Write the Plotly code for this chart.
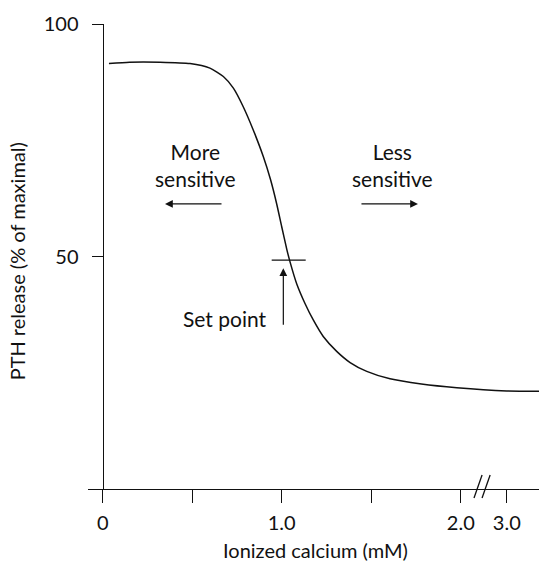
import plotly.graph_objects as go

# ---- data ----
calcium_mM = [0.035, 0.15, 0.32, 0.488, 0.599, 0.674, 0.730, 0.785, 0.841, 0.897, 0.937,
              0.972, 1.0, 1.028, 1.046, 1.084, 1.130, 1.177, 1.232, 1.307, 1.382, 1.475,
              1.605, 1.78, 1.978, 3.0, 3.7]
pth_release = [91.5, 91.8, 91.8, 91.5, 90.5, 88.7, 86.2, 82.2, 77.2, 71.5, 66.6,
               61.3, 56.4, 51.6, 48.9, 44.1, 39.9, 36.3, 32.8, 29.6, 27.2, 25.3,
               23.7, 22.6, 21.8, 21.1, 21.0]
tick_values_mM = [0, 0.5, 1.0, 1.5, 2.0, 3.0]
tick_labels = ["0", "", "1.0", "", "2.0", "3.0"]
y_tick_values = [50, 100]
set_point_y = 49.2
more_arrow = (0.672, 0.348)   # tail, head (mM)
less_arrow = (1.437, 1.761)
arrow_y = 61.3

# broken axis scale: linear up to 2.0 mM, compressed after the break
BREAK = 2.0
COMPRESS = 0.257


def pos(x):
    return x if x <= BREAK else BREAK + (x - BREAK) * COMPRESS


XR = [-0.082, 2.437]
YR = [0, 100]


def px(v):
    return (v - XR[0]) / (XR[1] - XR[0])


FONT = "Lato, 'DejaVu Sans', sans-serif"
BLACK = "#111111"

fig = go.Figure()
fig.add_trace(go.Scatter(
    x=[pos(v) for v in calcium_mM], y=pth_release, mode="lines",
    line=dict(color=BLACK, width=1.5, shape="spline", smoothing=0.6),
    hoverinfo="skip", showlegend=False))

W, H = 539, 565
ML, MR, MT, MB = 88, 0, 24, 76

fig.update_layout(
    width=W, height=H,
    margin=dict(l=ML, r=MR, t=MT, b=MB),
    paper_bgcolor="white", plot_bgcolor="white",
    font=dict(family=FONT, size=20, color=BLACK),
    xaxis=dict(range=XR, showgrid=False, zeroline=False, showline=True,
               linecolor=BLACK, linewidth=1.3, ticks="outside", ticklen=13,
               tickwidth=1.3, tickcolor=BLACK,
               tickvals=[pos(v) for v in tick_values_mM], ticktext=tick_labels,
               tickfont=dict(size=20), ticklabelstandoff=3),
    yaxis=dict(range=YR, showgrid=False, zeroline=False, showline=True,
               linecolor=BLACK, linewidth=1.3, ticks="outside", ticklen=11,
               tickwidth=1.3, tickcolor=BLACK, tickvals=y_tick_values,
               anchor="free", position=(0 - XR[0]) / (XR[1] - XR[0]),
               tickfont=dict(size=20), ticklabelstandoff=9),
)

# axis titles
fig.add_annotation(text="Ionized calcium (mM)", xref="paper", yref="paper",
                   x=px(1.19), y=-0.131, showarrow=False,
                   font=dict(size=20), xanchor="center", yanchor="middle")
fig.add_annotation(text="PTH release (% of maximal)", xref="paper", yref="paper",
                   x=-0.157, y=0.49, showarrow=False, textangle=-90,
                   font=dict(size=20), xanchor="center", yanchor="middle")

# labels
fig.add_annotation(text="More<br>sensitive", x=0.516, y=69.6, showarrow=False,
                   font=dict(size=21))
fig.add_annotation(text="Less<br>sensitive", x=1.616, y=69.6, showarrow=False,
                   font=dict(size=21))
fig.add_annotation(text="Set point", x=0.683, y=36.6, showarrow=False,
                   font=dict(size=21))

# arrows
for tail, head in (more_arrow, less_arrow):
    fig.add_annotation(x=head, y=arrow_y, ax=tail, ay=arrow_y, axref="x", ayref="y",
                       text="", showarrow=True, arrowhead=2, arrowsize=1.3,
                       arrowwidth=1.2, arrowcolor=BLACK)
fig.add_annotation(x=1.009, y=47.5, ax=1.009, ay=35.0, axref="x", ayref="y",
                   text="", showarrow=True, arrowhead=2, arrowsize=1.3,
                   arrowwidth=1.2, arrowcolor=BLACK)

# set point bar
fig.add_shape(type="line", xref="x", yref="y", x0=0.944, x1=1.134,
              y0=set_point_y, y1=set_point_y,
              line=dict(color=BLACK, width=1.3))

# axis break marks
for bx in (2.074, 2.119):
    fig.add_shape(type="line", xref="paper", yref="paper",
                  x0=px(bx), x1=px(bx + 0.045), y0=-0.0194, y1=0.0301,
                  line=dict(color=BLACK, width=1.3))

fig.write_html("out.html", config={"displayModeBar": False},
               post_script="document.body.style.margin='0';document.body.style.overflow='hidden';")
